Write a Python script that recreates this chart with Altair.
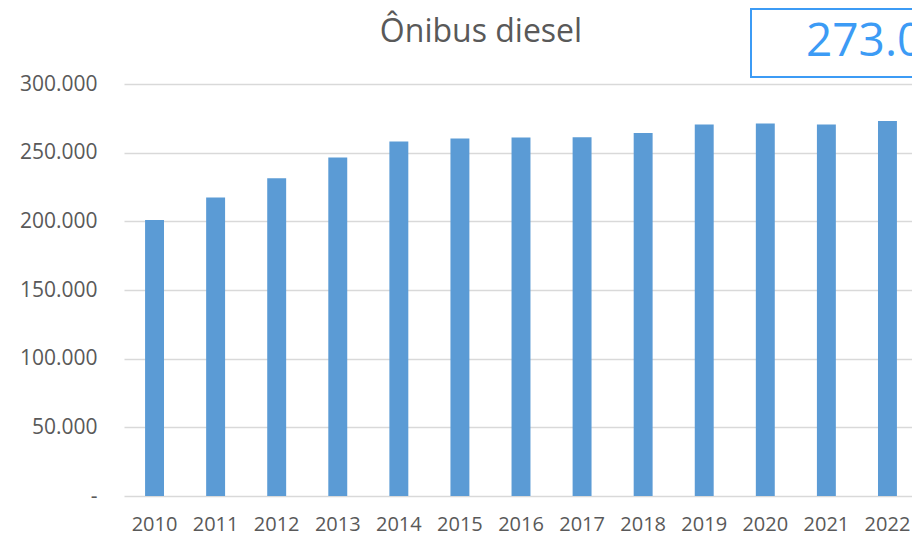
import altair as alt
import pandas as pd

years = ["2010", "2011", "2012", "2013", "2014", "2015", "2016",
         "2017", "2018", "2019", "2020", "2021", "2022"]
values = [201000, 217300, 231400, 246500, 258100, 260300, 261000,
          261200, 264300, 270600, 271300, 270600, 273000]
title_text = "Ônibus diesel"
y_ticks = [0, 50000, 100000, 150000, 200000, 250000, 300000]

df = pd.DataFrame({"ano": years, "frota": values})
last_label = f"{values[-1]:,}".replace(",", ".")

FONT = "Open Sans"
GREY = "#595959"
BLUE = "#3C9BF5"

base = alt.Chart(df)

bars = base.mark_bar(color="#5B9BD5").encode(
    x=alt.X("ano:N", sort=years,
            scale=alt.Scale(paddingInner=0.69, paddingOuter=0.345, range=[0, 794]),
            axis=alt.Axis(title=None, labelAngle=0, ticks=False, domain=False,
                          labelFont=FONT, labelFontSize=20, labelColor=GREY,
                          labelPadding=18)),
    y=alt.Y("frota:Q",
            scale=alt.Scale(domain=[0, 300000], nice=False),
            axis=alt.Axis(title=None, values=y_ticks, ticks=False, domain=False,
                          grid=True, gridColor="#D9D9D9", gridWidth=1.5,
                          labelFont=FONT, labelFontSize=21, labelColor=GREY,
                          labelPadding=27,
                          labelExpr="datum.value == 0 ? '-\u00a0\u00a0' : (datum.value/1000) + '.000'")),
)

title = alt.Chart(pd.DataFrame({"t": [title_text]})).mark_text(
    font=FONT, fontSize=32, color=GREY, align="center", baseline="alphabetic"
).encode(text="t:N", x=alt.value(357), y=alt.value(-42))

box = alt.Chart(pd.DataFrame({"k": [1]})).mark_rect(
    fill="white", stroke=BLUE, strokeWidth=2
).encode(x=alt.value(627), x2=alt.value(900), y=alt.value(-75), y2=alt.value(-7))

box_text = alt.Chart(pd.DataFrame({"t": [last_label]})).mark_text(
    font=FONT, fontSize=46, color=BLUE, align="left", baseline="alphabetic"
).encode(text="t:N", x=alt.value(682), y=alt.value(-28))

chart = alt.layer(bars, title, box, box_text).properties(
    width=788, height=412,
    autosize=alt.AutoSizeParams(type="none"),
    padding={"left": 116, "top": 76, "right": 0, "bottom": 39},
).configure_view(stroke=None)

chart.save("out.html", embed_options={"renderer": "svg", "actions": False})
